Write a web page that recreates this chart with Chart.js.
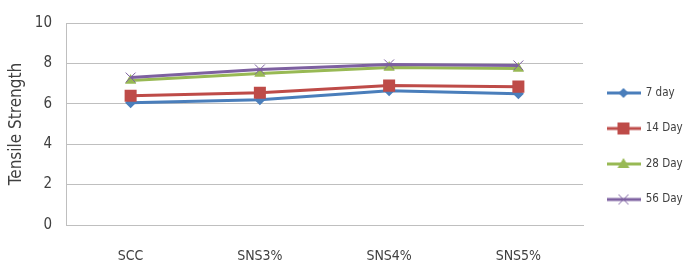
<!DOCTYPE html>
<html>
<head>
<meta charset="utf-8">
<script src="https://cdn.jsdelivr.net/npm/chart.js@4/dist/chart.umd.min.js"></script>
<style>
  html, body { margin: 0; padding: 0; background: #fff; }
  #wrap { width: 683px; height: 266px; position: relative; }
</style>
</head>
<body>
<div id="wrap"><canvas id="lineChart"></canvas></div>
<script>
// values
const categories = ["SCC", "SNS3%", "SNS4%", "SNS5%"];
const day7  = [6.05, 6.2, 6.65, 6.5];
const day14 = [6.4, 6.55, 6.9, 6.85];
const day28 = [7.15, 7.5, 7.8, 7.75];
const day56 = [7.3, 7.7, 7.95, 7.9];
const yTicks = [0, 2, 4, 6, 8, 10];

const FONT = "'DejaVu Sans Condensed', 'DejaVu Sans', sans-serif";

// small line+marker icon for the legend
function legendIcon(color, shape) {
  const c = document.createElement('canvas');
  c.width = 34; c.height = 16;
  const g = c.getContext('2d');
  g.strokeStyle = color; g.fillStyle = color; g.lineWidth = 3;
  g.beginPath(); g.moveTo(0, 8); g.lineTo(34, 8); g.stroke();
  g.beginPath();
  if (shape === 'diamond') {
    g.moveTo(17, 3); g.lineTo(22, 8); g.lineTo(17, 13); g.lineTo(12, 8); g.closePath(); g.fill();
  } else if (shape === 'square') {
    g.fillRect(11, 2, 12, 12);
  } else if (shape === 'triangle') {
    g.moveTo(17, 2); g.lineTo(23, 12); g.lineTo(11, 12); g.closePath(); g.fill();
  } else {
    g.lineWidth = 1;
    g.moveTo(12, 3); g.lineTo(22, 13); g.moveTo(22, 3); g.lineTo(12, 13); g.stroke();
  }
  return c;
}

const series = [
  { label: "7 day",  data: day7,  color: "#4A7EBB", style: "rectRot",  icon: "diamond",  r: 5.5 },
  { label: "14 Day", data: day14, color: "#BE4B48", style: "rect",     icon: "square",   r: 8.5 },
  { label: "28 Day", data: day28, color: "#98B954", style: "triangle", icon: "triangle", r: 6.5 },
  { label: "56 Day", data: day56, color: "#7D60A0", style: "crossRot", icon: "cross",    r: 7 }
];

const ctx = document.getElementById('lineChart');
const myChart = new Chart(ctx, {
  type: 'line',
  data: {
    labels: categories,
    datasets: series.map((s, i) => ({
      label: s.label,
      data: s.data,
      borderColor: s.color,
      backgroundColor: s.color,
      borderWidth: 3,
      pointStyle: s.style,
      pointRadius: s.r,
      pointBorderWidth: s.style === 'crossRot' ? 1 : 0,
      pointBorderColor: s.color,
      pointBackgroundColor: s.color,
      tension: 0,
      order: 4 - i,
      _icon: legendIcon(s.color, s.icon)
    }))
  },
  options: {
    responsive: true,
    maintainAspectRatio: false,
    animation: false,
    layout: { padding: { top: 16, right: 0, bottom: 0, left: 0 } },
    plugins: {
      tooltip: { enabled: false },
      legend: {
        position: 'right',
        maxWidth: 100,
        title: { display: true, text: ' ', font: { size: 2 }, padding: { top: 4, bottom: 4 } },
        labels: {
          usePointStyle: true,
          pointStyleWidth: 33,
          padding: 24,
          color: '#404040',
          font: { family: FONT, size: 11.5 },
          sort: (a, b) => a.datasetIndex - b.datasetIndex,
          generateLabels: (chart) => chart.data.datasets.map((ds, i) => ({
            text: ds.label,
            pointStyle: ds._icon,
            fillStyle: ds.borderColor,
            strokeStyle: ds.borderColor,
            fontColor: '#404040',
            lineWidth: 0,
            datasetIndex: i,
            hidden: false
          }))
        }
      }
    },
    scales: {
      x: {
        offset: true,
        afterFit: (axis) => { axis.height = 41; },
        grid: { display: false, drawTicks: false },
        border: { display: true, color: '#BFBFBF', width: 1 },
        ticks: { color: '#404040', padding: 23, font: { family: FONT, size: 14 } }
      },
      y: {
        min: 0,
        max: 10,
        afterFit: (axis) => { axis.width = 66; },
        afterBuildTicks: (axis) => { axis.ticks = yTicks.map(v => ({ value: v })); },
        grid: { color: '#BFBFBF', lineWidth: 1, drawTicks: false },
        border: { display: true, color: '#BFBFBF', width: 1 },
        ticks: { color: '#404040', padding: 14, font: { family: FONT, size: 15 } },
        title: {
          display: true,
          text: 'Tensile Strength',
          color: '#404040',
          font: { family: FONT, size: 17 },
          padding: { top: 6, bottom: 0 }
        }
      }
    }
  }
});
</script>
</body>
</html>
